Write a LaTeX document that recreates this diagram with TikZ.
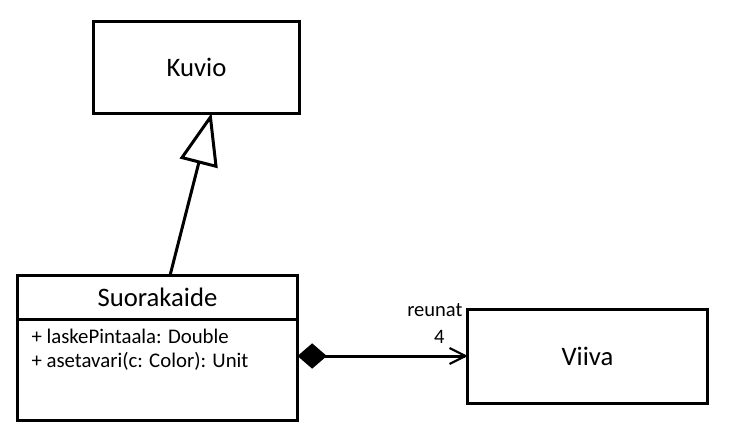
\documentclass[tikz,border=0pt]{standalone}
\usepackage{fontspec}
\setmainfont{Carlito}
\usetikzlibrary{arrows.meta,calc,positioning}
\begin{document}
\begin{tikzpicture}[x=0.75pt, y=-0.75pt, line width=2.25pt,
  umlbox/.style={draw, rectangle, inner sep=0pt, outer sep=0pt, font=\fontsize{20}{24}\selectfont},
  member/.style={anchor=base west, inner sep=0pt, font=\fontsize{15.6}{18}\selectfont},
  mult/.style={anchor=base east, inner sep=0pt, font=\fontsize{15.4}{18}\selectfont}]
  \useasboundingbox (0,0) rectangle (735,444);
  \node[umlbox, minimum width=154.5pt, minimum height=69pt] (kuvio) at (196.5,67) {Kuvio};
  \node[umlbox, minimum width=210pt, minimum height=32.6pt] (head) at (157.5,297.3) {Suorakaide};
  \node[umlbox, minimum width=210pt, minimum height=75.8pt, below=0pt of head] (body) {};
  \node[umlbox, minimum width=179.3pt, minimum height=70.5pt] (viiva) at (587.5,356) {Viiva};
  \node[member] (m1) at (30,343) {+ laskePintaala: Double};
  \node[member] (m2) at (30,367) {+ asetavari(c: Color): Unit};
  \node[mult] (role) at (464,316) {reunat};
  \node[mult] (card) at (446,343) {4};
  \draw[-{Triangle[open, fill=white, length=39pt, width=29pt]}]
    ($(head.north)+(12.5,0)$) -- ($(kuvio.south)+(15,0)$);
  \draw[{Diamond[length=22pt, width=19pt]}-{Straight Barb[length=12pt, width=12pt, line width=1.6pt]}]
    (viiva.west -| body.east) -- (viiva.west);
\end{tikzpicture}
\end{document}
